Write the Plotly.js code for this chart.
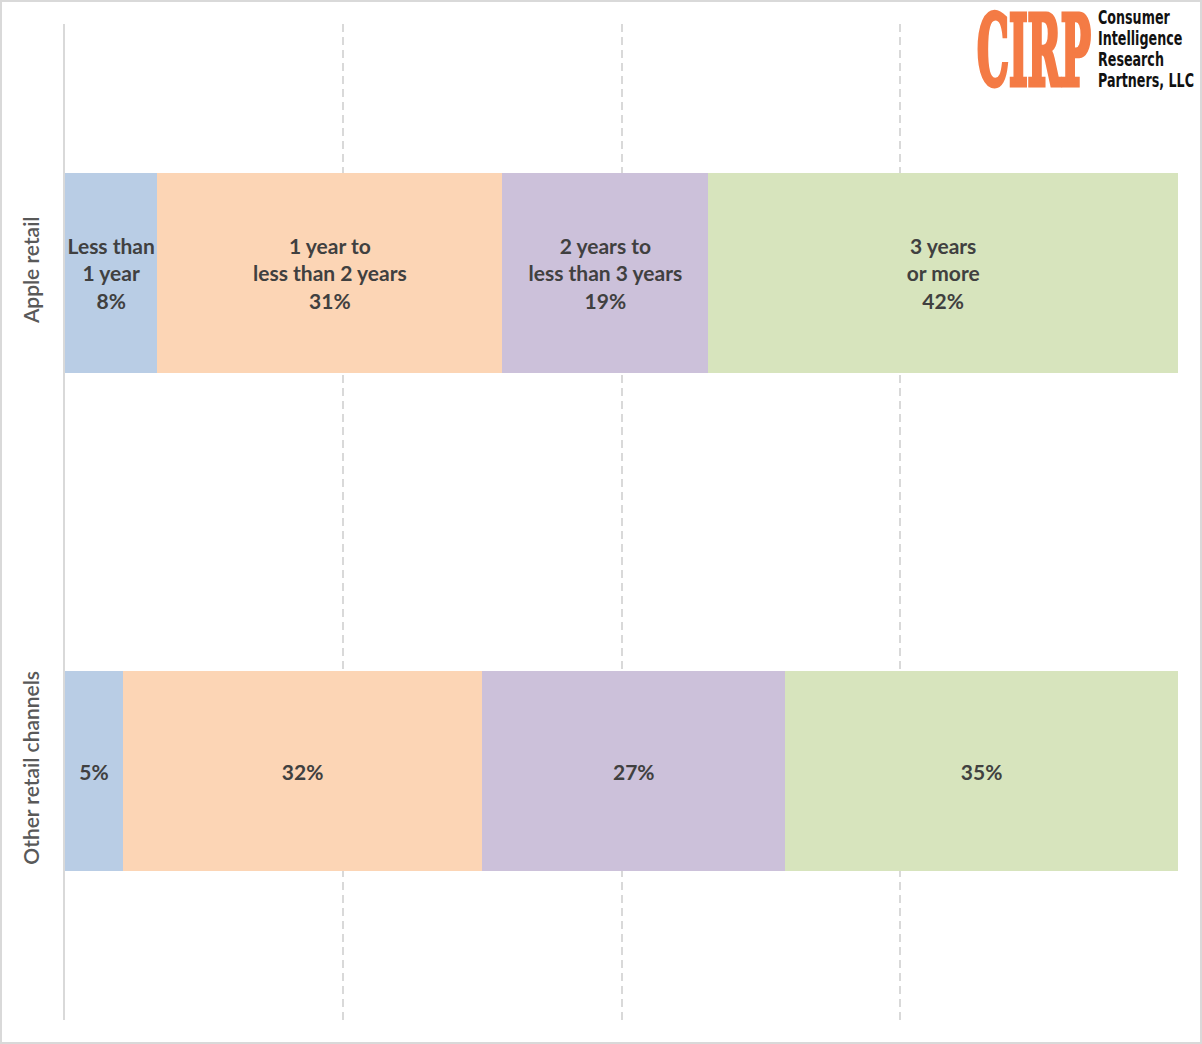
<!DOCTYPE html>
<html>
<head>
<meta charset="utf-8">
<script src="https://cdn.plot.ly/plotly-3.0.1.min.js"></script>
<style>
  html, body { margin: 0; padding: 0; background: #fff; }
  #frame {
    position: relative; width: 1202px; height: 1044px;
    box-sizing: border-box; border: 2px solid #d9d9d9;
  }
  #chart { position: absolute; left: 0; top: 0; width: 1198px; height: 1040px; }
  .logo { position: absolute; white-space: nowrap; transform-origin: left top; }
  #cirp {
    left: 975px; top: 8px; color: #f47b45;
    font-family: "DejaVu Serif Condensed", "DejaVu Serif", serif; font-weight: bold;
    font-size: 60px; line-height: 50px;
    -webkit-text-stroke: 3px #f47b45;
  }
  #cirpName {
    left: 1096px; top: 5px; color: #111;
    font-family: "Liberation Sans Narrow", "DejaVu Sans Condensed", sans-serif; font-weight: bold;
    font-size: 19px; line-height: 21px;
  }
</style>
</head>
<body>
<div id="frame">
  <div id="chart"></div>
  <div id="cirp" class="logo">CIRP</div>
  <div id="cirpName" class="logo">Consumer<br>Intelligence<br>Research<br>Partners, LLC</div>
</div>
<script>
var channels = ['Apple retail', 'Other retail channels'];
var tenureGroups = ['Less than 1 year', '1 year to less than 2 years', '2 years to less than 3 years', '3 years or more'];
var appleShares = [8.3, 31.0, 18.5, 42.2];
var otherShares = [5.2, 32.3, 27.2, 35.3];
var appleLabels = ['Less than<br>1 year<br>8%', '1 year to<br>less than 2 years<br>31%', '2 years to<br>less than 3 years<br>19%', '3 years<br>or more<br>42%'];
var otherLabels = ['5%', '32%', '27%', '35%'];
var colors = ['#b9cde5', '#fcd5b5', '#ccc1da', '#d7e4bd'];

var data = [];
for (var i = 0; i < tenureGroups.length; i++) {
    data.push({
        type: 'bar',
        orientation: 'h',
        name: tenureGroups[i],
        y: channels,
        x: [appleShares[i], otherShares[i]],
        text: [appleLabels[i], otherLabels[i]],
        textposition: 'inside',
        insidetextanchor: 'middle',
        textangle: 0,
        constraintext: 'none',
        textfont: { family: 'Lato, sans-serif', size: 21, color: '#404040', weight: 'bold' },
        marker: { color: colors[i], line: { width: 0 } },
        hoverinfo: 'skip'
    });
}

var layout = {
    width: 1198,
    height: 1040,
    barmode: 'stack',
    bargap: 0.6,
    showlegend: false,
    paper_bgcolor: '#ffffff',
    plot_bgcolor: '#ffffff',
    margin: { l: 63, r: 22, t: 22, b: 22 },
    xaxis: {
        range: [0, 100],
        dtick: 25,
        showticklabels: false,
        showgrid: true,
        gridcolor: '#d9d9d9',
        gridwidth: 2,
        griddash: '8px,5px',
        zeroline: false,
        showline: false
    },
    yaxis: {
        autorange: 'reversed',
        showline: true,
        linecolor: '#d9d9d9',
        linewidth: 2,
        showgrid: false,
        ticks: '',
        tickangle: -90,
        ticklabelstandoff: 16,
        tickfont: { family: 'Lato, sans-serif', size: 21, color: '#595959', weight: 600 }
    }
};

Plotly.newPlot('chart', data, layout, { displayModeBar: false, staticPlot: true });

// squeeze the logo text to the condensed shapes of the original
function fit(id, targetW, scaleY) {
    var el = document.getElementById(id);
    var w = el.getBoundingClientRect().width;
    el.style.transform = 'scale(' + (targetW / w) + ',' + scaleY + ')';
}
fit('cirp', 114, 1.62);
fit('cirpName', 96, 1);
</script>
</body>
</html>
